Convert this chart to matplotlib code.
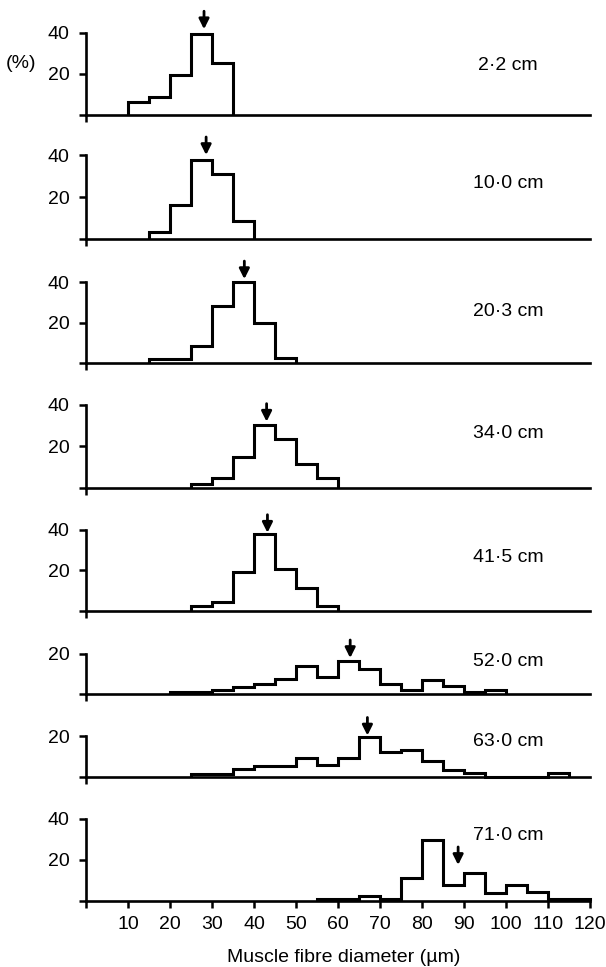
import matplotlib
matplotlib.use("Agg")
import matplotlib.pyplot as plt
import numpy as np

plt.rcParams['font.family'] = ['Liberation Sans', 'DejaVu Sans']

# ---- data ----
lengths = ["2·2 cm", "10·0 cm", "20·3 cm", "34·0 cm", "41·5 cm", "52·0 cm", "63·0 cm", "71·0 cm"]
bin_width = 5
starts = [10, 15, 15, 25, 25, 20, 25, 55]
p1 = [6, 8.5, 19.5, 39.5, 25]
p2 = [3.5, 16, 37.8, 31, 8.6]
p3 = [2, 2, 8.3, 28, 40, 20, 2.3]
p4 = [1.8, 4.5, 14.8, 30.3, 23.7, 11.3, 4.7]
p5 = [2.5, 4.5, 19, 37.9, 20.7, 11.1, 2.5]
p6 = [1, 1, 1.9, 3.7, 4.8, 7.4, 14, 8.3, 16.3, 12.6, 5.2, 2.2, 6.9, 3.9, 1, 2]
p7 = [1.5, 1.5, 4, 5.3, 5.3, 9.4, 5.6, 9.4, 19.5, 12, 13, 7.7, 3.5, 1.9, 0, 0, 0, 1.8]
p8 = [1, 1, 2.3, 1, 11.3, 29.7, 8, 13.8, 3.7, 7.7, 4.3, 1, 1]
series = [p1, p2, p3, p4, p5, p6, p7, p8]
mean_diam = [28.1, 28.6, 37.7, 43.0, 43.2, 62.9, 67.0, 88.6]   # arrows
arrow_tip = [41.6, 40.0, 41.6, 31.9, 38.6, 18.0, 20.3, 17.5]
y_max_tick = [40, 40, 40, 40, 40, 20, 20, 40]
xticks = list(range(0, 121, 10))
xticklabels = [""] + [str(v) for v in xticks[1:]]

# ---- layout (pixels) ----
W, H = 606, 967
baseline_px = [114.5, 239, 362.7, 487.7, 610.7, 694, 776.7, 901]
px_per_unit = [2.05, 2.1, 2.01, 2.07, 2.02, 2.0, 2.03, 2.06]
label_px_y = [65, 183, 312, 434, 557, 662, 741, 836]
x0_px, x120_px = 86, 590
ytop_units = 50
arrow_len_px = 18
FS = 14

fig = plt.figure(figsize=(W / 100, H / 100), dpi=100)
for i in range(8):
    b = baseline_px[i]
    p = px_per_unit[i]
    ax = fig.add_axes([x0_px / W, (H - b) / H, (x120_px - x0_px) / W, ytop_units * p / H])
    ax.set_xlim(0, 120)
    ax.set_ylim(0, ytop_units)
    ax.patch.set_alpha(0)
    for s in ['top', 'right']:
        ax.spines[s].set_visible(False)
    ax.spines['left'].set_bounds(0, y_max_tick[i])
    ax.spines['left'].set_linewidth(1.9)
    ax.spines['bottom'].set_linewidth(1.9)
    yt = list(range(0, y_max_tick[i] + 1, 20))
    ax.set_yticks(yt)
    ax.set_yticklabels([""] + [str(v) for v in yt[1:]])
    ax.tick_params(axis='y', direction='out', length=5, width=1.8, pad=7, labelsize=FS)
    if i == 7:
        ax.set_xticks(xticks)
        ax.set_xticklabels(xticklabels)
        ax.tick_params(axis='x', direction='out', length=5, width=1.8, pad=6, labelsize=FS)
    else:
        ax.set_xticks([0])
        ax.set_xticklabels([""])
        ax.tick_params(axis='x', direction='out', length=5, width=1.8)
    vals = series[i]
    edges = starts[i] + bin_width * np.arange(len(vals) + 1)
    ax.stairs(vals, edges, baseline=0, color='black', lw=2.2, clip_on=False)
    tip = arrow_tip[i]
    ax.annotate('', xy=(mean_diam[i], tip), xytext=(mean_diam[i], tip + arrow_len_px / p),
                arrowprops=dict(arrowstyle='-|>', color='black', lw=2.0, mutation_scale=15,
                                shrinkA=0, shrinkB=0), annotation_clip=False)
    ax.text(100.5, (b - label_px_y[i]) / p, lengths[i], ha='center', va='center', fontsize=FS)

fig.text(21 / W, 1 - 63 / H, "(%)", ha='center', va='center', fontsize=FS)
fig.text(344 / W, 1 - 958 / H, "Muscle fibre diameter (µm)", ha='center', va='center', fontsize=FS)

fig.savefig("out.png", dpi=100)
